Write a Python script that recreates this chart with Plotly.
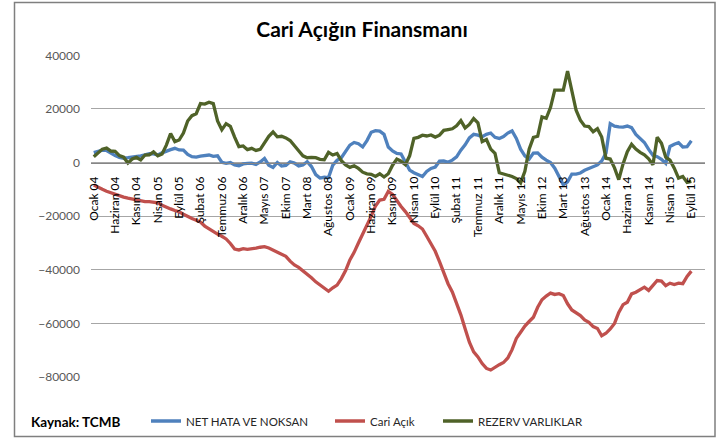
import plotly.graph_objects as go

title_text = "Cari Açığın Finansmanı"
source_text = "Kaynak: TCMB"

tick_labels = ["Ocak 04", "Haziran 04", "Kasım 04", "Nisan 05", "Eylül 05", "Şubat 06",
               "Temmuz 06", "Aralık 06", "Mayıs 07", "Ekim 07", "Mart 08", "Ağustos 08",
               "Ocak 09", "Haziran 09", "Kasım 09", "Nisan 10", "Eylül 10", "Şubat 11",
               "Temmuz 11", "Aralık 11", "Mayıs 12", "Ekim 12", "Mart 13", "Ağustos 13",
               "Ocak 14", "Haziran 14", "Kasım 14", "Nisan 15", "Eylül 15"]

net_hata = [3700, 4000, 4600, 4500, 3500, 2600, 1900, 1600, 1800, 2000,
            2100, 2500, 2900, 3300, 3200, 2800, 3600, 4300, 4800, 5300,
            4700, 4600, 3000, 2200, 2000, 2400, 2700, 2800, 2300, 2500,
            100, -300, 0, -900, -1200, -500, -300, -250, -700, 200,
            1500, -1000, -1800, 0, -1300, -1100, 300, -200, -1300, -900,
            300, -1500, -4500, -5800, -5500, -5600, -1000, 800, 1800, 4000,
            6500, 7500, 7000, 5800, 8200, 11300, 11900, 11700, 10500, 5800,
            4300, 3400, 3200, 200, -2800, -3800, -4500, -5200, -3300, -2200,
            -1700, 500, 600, 100, 900, 2100, 4600, 6600, 9200, 10500,
            10200, 9600, 10500, 11000, 9400, 9000, 9700, 11000, 11800, 9000,
            5000, 2500, 1300, 3500, 3600, 2000, 900, 0, -2100, -5300,
            -8300, -7200, -4300, -4300, -3900, -2900, -2200, -1500, -900, 600,
            3500, 14500, 13600, 13300, 13200, 13600, 13000, 10500, 8800, 7500,
            4900, 2700, 2200, 1200, -300, 6000, 6800, 7400, 5800, 5900,
            8100]

cari_acik = [-8400, -9300, -10000, -10700, -11300, -11750, -12300, -12900, -13300, -13600,
             -14000, -14500, -14600, -14600, -14700, -15000, -15900, -16700, -17300, -17900,
             -18400, -19300, -20200, -20900, -21500, -22200, -23700, -24800, -25800, -26700,
             -27500, -28500, -30200, -32300, -32600, -32100, -32400, -32300, -31900, -31600,
             -31400, -31900, -32700, -33300, -34000, -35000, -36800, -38200, -39100, -40300,
             -41600, -43000, -44500, -45700, -47000, -48000, -46700, -45700, -43300, -40300,
             -36300, -33500, -30000, -26800, -23500, -20000, -16200, -14000, -13700, -10800,
             -11900, -14400, -16400, -18300, -20500, -22700, -23600, -24800, -27500, -30600,
             -33100, -37000, -41000, -45200, -48300, -52500, -56800, -62000, -67000, -70600,
             -72500, -75000, -76800, -77400, -76300, -75400, -74600, -72900, -69800, -65600,
             -63300, -61000, -59300, -57700, -54000, -51200, -49800, -48700, -49200, -48900,
             -49600, -52700, -55000, -55900, -57100, -58700, -59600, -61200, -61900, -64600,
             -63700, -62100, -60000, -55900, -53000, -52100, -49000, -48400, -47500, -46500,
             -47700, -45900, -44000, -44200, -45900, -45000, -45500, -45000, -45200, -42500,
             -40500]

rezerv = [2200, 3600, 5000, 5400, 4300, 4200, 2600, 2000, -200, 1300,
          1900, 1000, 2800, 2900, 4000, 2500, 3200, 6500, 10800, 7800,
          8400, 11000, 15500, 17500, 18200, 22000, 21800, 22500, 22000, 15500,
          12200, 14500, 13500, 9500, 5900, 6200, 4800, 5300, 4500, 4900,
          7500, 9800, 11400, 9600, 9800, 9200, 8200, 6500, 4400, 2500,
          1800, 1900, 1800, 1200, 1000, 3800, 2800, 3400, 700, -900,
          -1800, -1200, -2200, -3600, -4200, -4400, -5200, -4200, -5400, -4200,
          -1000, 1300, 500, -800, 2500, 9000, 9400, 10200, 9900, 10300,
          9500, 10200, 12000, 12300, 12600, 13700, 15600, 12900, 14200, 16400,
          14800, 7800, 8600, 5000, 3400, -3800, -4300, -4500, -5200, -6000,
          -7600, -3300, 5000, 9400, 9800, 17000, 16500, 20500, 27000, 27000,
          27000, 34100, 27000, 19500, 15800, 13600, 13400, 11500, 12600, 9500,
          1600, 1300, -2000, -6400, -500, 4000, 6800, 5000, 3800, 2900,
          1400, -800, 9400, 7200, 2000, 900, -2100, -5800, -5200, -7400,
          -7000]

series_names = ["NET HATA VE NOKSAN", "Cari Açık", "REZERV VARLIKLAR"]
series_colors = ["#4F81BD", "#C0504D", "#4F6228"]
series_values = [net_hata, cari_acik, rezerv]

months = list(range(len(net_hata)))
tick_positions = months[::5]

FONT = "Lato, 'Liberation Sans', sans-serif"
W, H = 720, 439

def fx(p):
    return p / W

def fy(p):
    return 1 - p / H

fig = go.Figure()
legend_ids = ["legend", "legend2", "legend3"]
for name, color, vals, lg in zip(series_names, series_colors, series_values, legend_ids):
    fig.add_trace(go.Scatter(x=months, y=vals, mode="lines", name=name,
                             line=dict(color=color, width=3.3), legend=lg,
                             hoverinfo="x+y+name"))

legend_common = dict(orientation="h", yanchor="middle", y=fy(421), xanchor="left",
                     font=dict(family=FONT, size=11.5, color="#262626"),
                     bgcolor="rgba(0,0,0,0)", itemwidth=30, tracegroupgap=0)

fig.update_layout(
    width=W, height=H,
    margin=dict(l=0, r=0, t=0, b=0, autoexpand=False),
    paper_bgcolor="white", plot_bgcolor="white",
    font=dict(family=FONT, size=12, color="#595959"),
    title=dict(text="<b>" + title_text + "</b>", x=fx(362), xref="container", xanchor="center",
               y=fy(30), yref="container", yanchor="middle",
               font=dict(family=FONT, size=21, color="black")),
    xaxis=dict(domain=[fx(91), fx(705)], range=[-0.65, 143.2], tickmode="array",
               tickvals=tick_positions, ticktext=tick_labels, tickangle=-90,
               anchor="free", position=fy(162.7),
               showgrid=False, zeroline=False, showline=True, linecolor="#868686",
               linewidth=1, ticks="", ticklabelstandoff=8,
               tickfont=dict(family=FONT, size=12, color="black")),
    yaxis=dict(domain=[fy(377), fy(55.3)], range=[-80000, 40000], tickmode="linear",
               tick0=0, dtick=20000, tickformat="d",
               showgrid=True, gridcolor="#A6A6A6", gridwidth=1, zeroline=False,
               showline=False, ticks="", ticklabelstandoff=10,
               tickfont=dict(family=FONT, size=12, color="#595959")),
    legend=dict(x=fx(146), **legend_common),
    legend2=dict(x=fx(330), **legend_common),
    legend3=dict(x=fx(438), **legend_common),
    showlegend=True,
)

fig.add_annotation(text="<b>" + source_text + "</b>", xref="paper", yref="paper",
                   x=fx(29), y=fy(421.5), xanchor="left", yanchor="middle",
                   showarrow=False, font=dict(family=FONT, size=13.5, color="black"))

fig.add_shape(type="rect", xref="paper", yref="paper",
              x0=fx(14.5), x1=fx(715), y0=fy(436.5), y1=fy(2.5),
              line=dict(color="#7F7F7F", width=1.5), fillcolor="rgba(0,0,0,0)",
              layer="above")

fig.write_html("out.html", config={"displayModeBar": False},
               post_script="document.body.style.margin='0';document.body.style.overflow='hidden';")
